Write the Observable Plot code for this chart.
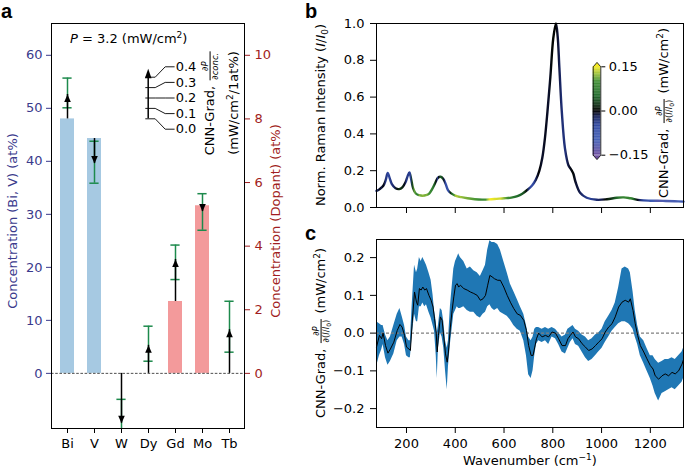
<!DOCTYPE html>
<html>
<head>
<meta charset="utf-8">
<script src="https://cdn.jsdelivr.net/npm/d3@7"></script>
<script src="https://cdn.jsdelivr.net/npm/@observablehq/plot@0.6"></script>
<style>
  body { margin: 0; background: #fff; }
  #fig { position: relative; width: 685px; height: 468px; overflow: hidden; background: #fff;
         font-family: "DejaVu Sans", sans-serif; font-size: 13px; color: #000; }
  #fig svg { position: absolute; left: 0; top: 0; }
  .t { position: absolute; white-space: nowrap; line-height: 1.1; }
  .rot { transform: translate(-50%, -50%) rotate(-90deg); }
  .letter { font-family: "Liberation Sans", Arial, sans-serif; font-weight: bold; font-size: 20px; line-height: 1; }
  sup { font-size: 9px; vertical-align: 5px; line-height: 0; }
  sub { font-size: 9px; vertical-align: -3px; line-height: 0; }
  .frac { display: inline-block; vertical-align: middle; text-align: center; font-size: 8.5px; line-height: 1.05; margin: 0 1px; }
  .frac > span { display: block; padding: 0 1px; }
  .frac > span + span { border-top: 0.8px solid currentColor; }
  .frac sub { font-size: 6px; vertical-align: -2px; }
</style>
</head>
<body>
<div id="fig"></div>
<script>
// ---------------- Panel a data ----------------
const elements   = ["Bi", "V", "W", "Dy", "Gd", "Mo", "Tb"];
const hostConc   = [48.0, 44.3, null, null, null, null, null];   // at% (left axis)
const dopantConc = [null, null, 0, 0, 2.26, 5.27, 0];            // at% (right axis)
const cnnGrad    = [0.235, -0.24, -0.48, 0.27, 0.405, -0.055, 0.42];   // mW/cm²/1at%
const gradLow    = [0.107, -0.43, -0.71, 0.117, 0.211, -0.236, 0.204];
const gradHigh   = [0.393, -0.026, -0.25, 0.454, 0.543, 0.116, 0.694];
const pValue = 3.2;
const legendTicks = [0.0, 0.1, 0.2, 0.3, 0.4];
const leftTicks  = [0, 10, 20, 30, 40, 50, 60];
const rightTicks = [0, 2, 4, 6, 8, 10];
const DOPANT_RATIO = 6;    // left-axis units per right-axis unit
const GRAD_SCALE = 19.6;   // arrow length (left-axis units) per gradient unit

// ---------------- Panel b data (Raman spectrum) ----------------
const specWave = [77,90,105,115,123,131,140,155,170,183,196,205,212,219,227,238,252,266,280,293,305,319,330,340,351,361,370,382,400,425,450,480,510,540,570,600,630,655,675,695,715,730,745,757,768,778,790,802,813,820,827,837,850,864,876,884,893,912,939,980,1022,1062,1091,1118,1158,1200,1252,1300,1336];
const specInt  = [0.09,0.1,0.118,0.15,0.188,0.16,0.127,0.105,0.1,0.11,0.137,0.172,0.19,0.155,0.105,0.076,0.067,0.064,0.067,0.076,0.1,0.137,0.163,0.167,0.155,0.127,0.095,0.078,0.065,0.056,0.05,0.045,0.043,0.044,0.047,0.05,0.054,0.062,0.075,0.095,0.12,0.15,0.2,0.27,0.38,0.52,0.71,0.92,1.0,0.93,0.76,0.52,0.32,0.23,0.205,0.185,0.14,0.08,0.053,0.042,0.045,0.053,0.055,0.05,0.04,0.037,0.036,0.034,0.032];
const yTicksB = [0, 0.2, 0.4, 0.6, 0.8, 1.0];
const xTicksW = [200, 400, 600, 800, 1000, 1200];
const cbarTicks = [-0.15, 0, 0.15];

// ---------------- Panel c data (CNN gradient) ----------------
const gradWave = [77,89,98,104,114,124,134,148,162,173,
  182,192,200,210,216,223,233,241,246,253,
  260,267,275,282,292,301,309,315,322,326,
  331,339,346,353,360,367,372,380,387,394,
  401,408,414,421,435,449,462,476,490,503,
  514,524,533,542,551,561,574,585,599,613,
  626,640,654,667,681,692,701,711,719,726,
  733,742,756,770,783,797,811,824,838,852,
  862,872,883,893,906,920,934,947,961,975,
  988,1002,1015,1029,1043,1056,1070,1084,1097,1111,
  1118,1129,1138,1148,1159,1173,1186,1200,1211,1220,
  1234,1248,1261,1275,1289,1302,1316,1330,1336];
const gradMean = [-0.037,-0.006,-0.015,0.0,-0.033,-0.053,-0.042,-0.024,0.007,0.023,
  0.016,-0.006,-0.037,-0.042,-0.046,0.025,0.109,0.082,0.074,0.118,
  0.114,0.122,0.114,0.118,0.1,0.087,0.069,0.038,0.0,-0.05,
  -0.006,0.043,0.034,-0.01,-0.055,-0.077,-0.05,0.016,0.06,0.096,
  0.127,0.131,0.122,0.127,0.118,0.114,0.109,0.105,0.1,0.087,
  0.091,0.1,0.127,0.153,0.149,0.144,0.14,0.14,0.122,0.1,
  0.082,0.065,0.051,0.047,0.034,0.007,-0.033,-0.059,-0.059,-0.037,
  -0.015,0.0,-0.01,-0.006,-0.01,0.003,0.0,-0.015,-0.033,-0.033,
  -0.015,-0.006,0.003,-0.01,-0.015,-0.028,-0.037,-0.046,-0.042,-0.033,
  -0.024,-0.015,0.003,0.016,0.025,0.043,0.069,0.082,0.087,0.082,
  0.091,0.06,0.025,-0.006,-0.033,-0.05,-0.068,-0.086,-0.095,-0.113,
  -0.122,-0.113,-0.108,-0.113,-0.104,-0.108,-0.1,-0.082,-0.07];
const gradHi = [0.03,0.025,0.02,0.02,-0.005,-0.02,-0.01,0.02,0.05,0.065,
  0.045,0.02,-0.01,-0.02,-0.02,0.07,0.18,0.16,0.17,0.2,
  0.19,0.2,0.19,0.18,0.16,0.14,0.1,0.06,0.03,0.0,
  0.02,0.065,0.06,0.03,-0.02,-0.04,-0.02,0.07,0.12,0.17,
  0.19,0.2,0.21,0.2,0.19,0.17,0.175,0.165,0.16,0.15,
  0.165,0.18,0.22,0.245,0.24,0.24,0.235,0.22,0.19,0.16,
  0.13,0.11,0.09,0.07,0.05,0.02,-0.01,-0.02,-0.01,0.01,
  0.015,0.015,0.01,0.015,0.01,0.015,0.01,0.0,-0.01,-0.005,
  0.01,0.015,0.02,0.01,0.005,-0.005,-0.01,-0.02,-0.015,-0.005,
  0.0,0.01,0.03,0.045,0.06,0.08,0.12,0.17,0.175,0.17,
  0.16,0.11,0.06,0.02,-0.01,-0.02,-0.04,-0.06,-0.06,-0.07,
  -0.08,-0.075,-0.07,-0.07,-0.065,-0.07,-0.06,-0.05,-0.04];
const gradLo = [-0.09,-0.06,-0.045,-0.03,-0.065,-0.085,-0.075,-0.055,-0.02,-0.01,
  -0.01,-0.03,-0.06,-0.065,-0.065,-0.01,0.05,0.03,0.03,0.07,
  0.07,0.08,0.07,0.075,0.055,0.04,0.02,0.005,-0.06,-0.12,
  -0.04,0.0,-0.01,-0.04,-0.1,-0.15,-0.09,-0.03,0.01,0.05,
  0.06,0.07,0.065,0.065,0.07,0.06,0.055,0.055,0.045,0.04,
  0.05,0.055,0.07,0.075,0.065,0.06,0.065,0.055,0.05,0.045,
  0.035,0.02,0.01,0.005,-0.02,-0.06,-0.11,-0.12,-0.1,-0.06,
  -0.03,-0.02,-0.025,-0.02,-0.03,-0.01,-0.015,-0.03,-0.05,-0.055,
  -0.04,-0.025,-0.015,-0.03,-0.035,-0.05,-0.065,-0.075,-0.07,-0.06,
  -0.05,-0.04,-0.025,-0.01,0.005,0.015,0.025,0.03,0.03,0.025,
  0.02,0.01,-0.01,-0.03,-0.06,-0.08,-0.1,-0.12,-0.14,-0.16,
  -0.18,-0.16,-0.155,-0.15,-0.145,-0.15,-0.14,-0.13,-0.12];
const yTicksC = [-0.2, -0.1, 0.0, 0.1, 0.2];

// ---------------- styles ----------------
const NAVY = "#3a3a8c", DARKRED = "#a11d21", GREEN = "#1d8a4c";
const BLUEBAR = "#a6c9e2", REDBAR = "#f39a9b", BAND = "#1f77b4";
const cmap = d3.scaleLinear()
  .domain([-0.15, -0.1, -0.05, -0.02, 0, 0.02, 0.05, 0.1, 0.125, 0.15])
  .range(["#6d4f9f", "#4460b6", "#2f48a2", "#16205a", "#000000", "#0f2f14", "#1f6a2b", "#409035", "#9cc23c", "#f4ea24"])
  .clamp(true);

const W = 685, H = 468;
const fig = document.getElementById("fig");
const baseStyle = { background: "transparent", fontFamily: "DejaVu Sans, sans-serif", fontSize: "13px", overflow: "visible" };
function add(svg) { fig.appendChild(svg); return svg; }
function html(x, y, content, cls, color) {
  const d = document.createElement("div");
  d.className = "t " + (cls || "");
  d.style.left = x + "px"; d.style.top = y + "px";
  if (color) d.style.color = color;
  d.innerHTML = content;
  fig.appendChild(d);
  return d;
}

try {
  // ---------- Panel a ----------
  const rows = elements.map((el, i) => {
    const host = hostConc[i] != null;
    const base = host ? hostConc[i] : dopantConc[i] * DOPANT_RATIO;
    return { el, host, base,
      tip: base + cnnGrad[i] * GRAD_SCALE,
      lo: base + gradLow[i] * GRAD_SCALE,
      hi: base + gradHigh[i] * GRAD_SCALE };
  });
  const headUp   = { draw(c) { c.moveTo(0, 0); c.lineTo(3.3, 7.5); c.lineTo(-3.3, 7.5); c.closePath(); } };
  const headDown = { draw(c) { c.moveTo(0, 0); c.lineTo(3.3, -7.5); c.lineTo(-3.3, -7.5); c.closePath(); } };
  const headLeg  = { draw(c) { c.moveTo(0, -8.5); c.lineTo(3.3, 1); c.lineTo(-3.3, 1); c.closePath(); } };

  const aMargins = { width: W, height: H, marginLeft: 51, marginRight: W - 244, marginTop: 23, marginBottom: H - 428 };
  const aY = [-10.4, 66];
  const xBand = { type: "band", domain: elements, paddingInner: 0.5, paddingOuter: 0.25, label: null };

  add(Plot.plot({
    ...aMargins, style: baseStyle,
    x: { ...xBand, tickSize: 5, tickPadding: 5 },
    y: { domain: aY, axis: null },
    marks: [
      Plot.barY(rows.filter(d => d.host), { x: "el", y: "base", fill: BLUEBAR }),
      Plot.barY(rows.filter(d => !d.host && d.base > 0), { x: "el", y: "base", fill: REDBAR }),
      Plot.ruleY([0], { stroke: "#222", strokeWidth: 0.8, strokeDasharray: "2.6,1.6" }),
      Plot.ruleX(rows, { x: "el", y1: "lo", y2: "hi", stroke: GREEN, strokeWidth: 1.5, clip: true }),
      Plot.tickY(rows, { x: "el", y: "lo", stroke: GREEN, strokeWidth: 1.5, insetLeft: 2.4, insetRight: 2.4, clip: true }),
      Plot.tickY(rows, { x: "el", y: "hi", stroke: GREEN, strokeWidth: 1.5, insetLeft: 2.4, insetRight: 2.4, clip: true }),
      Plot.ruleX(rows, { x: "el", y1: "base", y2: "tip", stroke: "black", strokeWidth: 1.5 }),
      Plot.dot(rows.filter(d => d.tip > d.base), { x: "el", y: "tip", symbol: headUp, fill: "black", stroke: "none" }),
      Plot.dot(rows.filter(d => d.tip < d.base), { x: "el", y: "tip", symbol: headDown, fill: "black", stroke: "none" }),
      Plot.frame({ stroke: "black", strokeWidth: 1 })
    ]
  }));
  // left axis (navy)
  add(Plot.plot({
    ...aMargins, style: { ...baseStyle, color: NAVY },
    x: { ...xBand, axis: null },
    y: { domain: aY, ticks: leftTicks, tickSize: 5, tickPadding: 4, label: null },
    marks: [Plot.ruleY([0], { strokeOpacity: 0 })]
  }));
  // right axis (dark red)
  add(Plot.plot({
    ...aMargins, style: { ...baseStyle, color: DARKRED },
    x: { ...xBand, axis: null },
    y: { domain: aY.map(v => v / DOPANT_RATIO), axis: "right", ticks: rightTicks, tickSize: 5, tickPadding: 5, label: null },
    marks: [Plot.ruleY([0], { strokeOpacity: 0 })]
  }));
  // gradient arrow legend
  const labelG = v => 0.2 + (v - 0.2) * 1.5;
  const legLines = legendTicks.flatMap(v => [
    { v, x: -2.5, g: v }, { v, x: 7, g: v }, { v, x: 17, g: labelG(v) }, { v, x: 26, g: labelG(v) }]);
  add(Plot.plot({
    width: W, height: H, style: baseStyle,
    x: { domain: [0, 100], range: [147.7, 247.7], axis: null },
    y: { domain: [0, 0.4], range: [118.3, 76.7], axis: null },
    marks: [
      Plot.line(legLines, { x: "x", y: "g", z: "v", stroke: "black", strokeWidth: 0.9 }),
      Plot.ruleX([{ x: 0, y1: 0, y2: legendTicks[legendTicks.length - 1] }], { x: "x", y1: "y1", y2: "y2", stroke: "black", strokeWidth: 1.5 }),
      Plot.dot([{ x: 0, y: legendTicks[legendTicks.length - 1] }], { x: "x", y: "y", symbol: headLeg, fill: "black", stroke: "none" }),
      Plot.text(legendTicks, { x: () => 27.5, y: d => labelG(d), text: d => d3.format(".1f")(d), textAnchor: "start", fontSize: 13 })
    ]
  }));

  // ---------- Panel b ----------
  const specRows = specWave.map((w, i) => ({ w, v: specInt[i] }));
  const xW = [77, 1336];
  const plotB = add(Plot.plot({
    width: W, height: H, marginLeft: 376, marginRight: 2, marginTop: 23, marginBottom: H - 207, style: baseStyle,
    x: { domain: xW, ticks: xTicksW, tickFormat: () => "", tickSize: 6, label: null },
    y: { domain: [0, 1], ticks: yTicksB, tickFormat: d3.format(".1f"), tickSize: 6, tickPadding: 6, label: null },
    marks: [
      Plot.line(specRows, { x: "w", y: "v", stroke: "url(#specGrad)", strokeWidth: 2.4, curve: "catmull-rom" }),
      Plot.frame({ stroke: "black", strokeWidth: 1 })
    ]
  }));
  {
    const sx = plotB.scale("x");
    const px = d3.scaleLinear(sx.domain, sx.range);
    const x1 = px(gradWave[0]), x2 = px(gradWave[gradWave.length - 1]);
    const defs = d3.select(plotB).insert("defs", ":first-child");
    const lg = defs.append("linearGradient").attr("id", "specGrad").attr("gradientUnits", "userSpaceOnUse")
      .attr("x1", x1).attr("x2", x2).attr("y1", 0).attr("y2", 0);
    gradWave.forEach((w, i) => {
      lg.append("stop").attr("offset", (px(w) - x1) / (x2 - x1)).attr("stop-color", cmap(gradMean[i]));
    });
  }
  // colorbar
  const step = 0.0025;
  const cbSteps = d3.range(cbarTicks[0], cbarTicks[2] - step / 2, step);
  const ext = 0.05 * (cbarTicks[2] - cbarTicks[0]);
  const cbTop = [{ x: 0, y: cbarTicks[2] }, { x: 1, y: cbarTicks[2] }, { x: 0.5, y: cbarTicks[2] + ext }];
  const cbBot = [{ x: 0, y: cbarTicks[0] }, { x: 1, y: cbarTicks[0] }, { x: 0.5, y: cbarTicks[0] - ext }];
  const cbOutline = [{ x: 0, y: cbarTicks[0] }, { x: 0, y: cbarTicks[2] }, { x: 0.5, y: cbarTicks[2] + ext }, { x: 1, y: cbarTicks[2] },
    { x: 1, y: cbarTicks[0] }, { x: 0.5, y: cbarTicks[0] - ext }, { x: 0, y: cbarTicks[0] }];
  add(Plot.plot({
    width: W, height: H, marginLeft: 592.7, marginRight: W - 600.3, marginTop: 66.3, marginBottom: H - 154.7, style: baseStyle,
    x: { domain: [0, 1], axis: null },
    y: { domain: [cbarTicks[0], cbarTicks[2]], axis: "right", ticks: cbarTicks, tickFormat: d3.format(".2f"), tickSize: 4, tickPadding: 4, label: null },
    color: { type: "identity" },
    marks: [
      Plot.rect(cbSteps, { x1: () => 0, x2: () => 1, y1: d => d, y2: d => d + step * 1.3, fill: d => cmap(d + step / 2) }),
      Plot.line(cbTop, { x: "x", y: "y", fill: cmap(cbarTicks[2]), stroke: "none" }),
      Plot.line(cbBot, { x: "x", y: "y", fill: cmap(cbarTicks[0]), stroke: "none" }),
      Plot.line(cbOutline, { x: "x", y: "y", stroke: "black", strokeWidth: 0.8 })
    ]
  }));

  // ---------- Panel c ----------
  const cRows = gradWave.map((w, i) => ({ w, m: gradMean[i], lo: gradLo[i], hi: gradHi[i] }));
  add(Plot.plot({
    width: W, height: H, marginLeft: 376, marginRight: 2, marginTop: 239, marginBottom: H - 427, style: baseStyle,
    x: { domain: xW, ticks: xTicksW, tickFormat: d3.format("d"), tickSize: 6, tickPadding: 5, label: null },
    y: { domain: [-0.25, 0.248], ticks: yTicksC, tickFormat: d3.format(".1f"), tickSize: 6, tickPadding: 6, label: null },
    marks: [
      Plot.areaY(cRows, { x: "w", y1: "lo", y2: "hi", fill: BAND }),
      Plot.ruleY([0], { stroke: "#808080", strokeWidth: 1.3, strokeDasharray: "3,2" }),
      Plot.line(cRows, { x: "w", y: "m", stroke: "black", strokeWidth: 1 }),
      Plot.frame({ stroke: "black", strokeWidth: 1 })
    ]
  }));

  // ---------- text ----------
  const gradFracI = '<span class="frac"><span><i>∂P</i></span><span>∂(<i>I</i>/<i>I</i><sub>0</sub>)</span></span>';
  const gradFracC = '<span class="frac"><span><i>∂P</i></span><span><i>∂conc.</i></span></span>';
  html(1, 1, "a", "letter");
  html(305, 1, "b", "letter");
  html(305, 223, "c", "letter");
  html(13, 221, "Concentration (Bi, V) (at%)", "rot", NAVY);
  html(276, 221, "Concentration (Dopant) (at%)", "rot", DARKRED);
  html(70, 32, `<i>P</i> = ${pValue} (mW/cm<sup>2</sup>)`);
  html(210, 103, "CNN-Grad, " + gradFracC, "rot");
  html(234, 103, "(mW/cm<sup>2</sup>/1at%)", "rot");
  html(321, 115, "Norm. Raman Intensity (<i>I</i>/<i>I</i><sub>0</sub>)", "rot");
  html(664, 113, "CNN-Grad, " + gradFracI + " (mW/cm<sup>2</sup>)", "rot");
  html(321, 333, "CNN-Grad, " + gradFracI + " (mW/cm<sup>2</sup>)", "rot");
  const wl = html(530, 461, "Wavenumber (cm<sup>−1</sup>)");
  wl.style.transform = "translate(-50%, -50%)";
} catch (e) {
  document.body.insertAdjacentHTML("beforeend", "<pre>" + e.stack + "</pre>");
}
</script>
</body>
</html>
